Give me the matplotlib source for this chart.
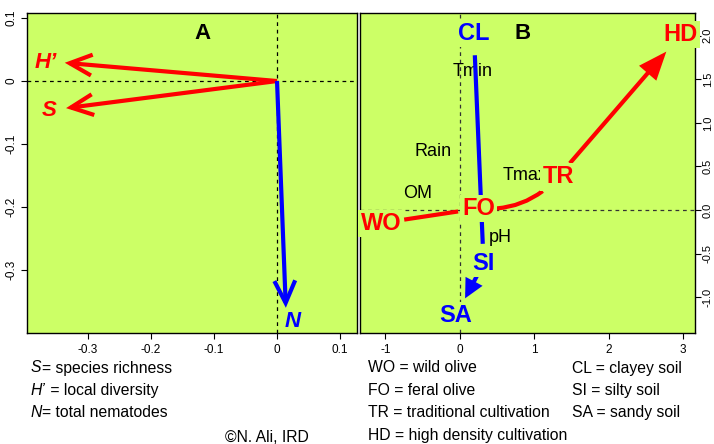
import matplotlib
matplotlib.use("Agg")
import matplotlib.pyplot as plt
from matplotlib.patches import FancyArrowPatch

# Panel A: nematode community vectors
vec_names = ["H’", "S", "N"]
vec_x = [-0.337, -0.335, 0.014]
vec_y = [0.029, -0.043, -0.360]

# Panel B: land-use trajectory, soil gradient and environmental variables
use_names = ["WO", "FO", "TR", "HD"]
use_x = [-1.06, 0.255, 1.32, 2.97]
use_y = [-0.15, 0.02, 0.38, 2.01]

soil_names = ["CL", "SI", "SA"]
soil_x = [0.19, 0.32, -0.05]
soil_y = [2.03, -0.61, -1.21]

env_names = ["Tmin", "Rain", "OM", "Tmax", "pH"]
env_x = [0.17, -0.36, -0.56, 0.88, 0.54]
env_y = [1.59, 0.67, 0.19, 0.40, -0.32]

ticks_a_x = [-0.3, -0.2, -0.1, 0, 0.1]
ticks_a_y = [0.1, 0, -0.1, -0.2, -0.3]
ticks_b_x = [-1, 0, 1, 2, 3]
ticks_b_y = [-1.0, -0.5, 0.0, 0.5, 1.0, 1.5, 2.0]

legend_left = [("S", "= species richness"),
               ("H’", " = local diversity"),
               ("N", "= total nematodes")]
legend_use = ["WO = wild olive", "FO = feral olive",
              "TR = traditional cultivation", "HD = high density cultivation"]
legend_soil = ["CL = clayey soil", "SI = silty soil", "SA = sandy soil"]

GREEN = "#ccff66"
RED = "#ff0000"
BLUE = "#0000ff"

plt.rcParams["font.family"] = "Liberation Sans"

fig = plt.figure(figsize=(7.14, 4.44), dpi=100)
W, H = 714, 444


def px_axes(l, t, r, b):
    return fig.add_axes([l / W, 1 - b / H, (r - l) / W, (b - t) / H])


def arrow(ax, p0, p1, color, style, shrink=(0, 0), rad=0.0, lw=3, z=3):
    ax.add_patch(FancyArrowPatch(p0, p1, arrowstyle=style, color=color, lw=lw,
                                 mutation_scale=10, shrinkA=shrink[0], shrinkB=shrink[1],
                                 connectionstyle=f"arc3,rad={rad}", zorder=z,
                                 joinstyle="miter", capstyle="butt"))


# ---------------- Panel A ----------------
ax = px_axes(27, 13, 357, 333)
ax.set_facecolor(GREEN)
ax.set_xlim(-0.397, 0.127)
ax.set_ylim(-0.40, 0.108)
ax.axhline(0, color="black", lw=0.9, ls=(0, (3, 3)), zorder=1)
ax.axvline(0, color="black", lw=0.9, ls=(0, (3, 3)), zorder=1)

vec_colors = [RED, RED, BLUE]
label_off = [(-14, 0), (-12, -2), (5, -10)]
for name, x, y, c, off in zip(vec_names, vec_x, vec_y, vec_colors, label_off):
    arrow(ax, (0, 0), (x, y), c, "->,head_length=1.6,head_width=0.75")
    ax.annotate(name, (x, y), xytext=off, textcoords="offset points",
                ha="center", va="center", color=c, fontsize=16,
                fontweight="bold", fontstyle="italic", annotation_clip=False)
ax.text(-0.119, 0.076, "A", ha="center", va="center", fontsize=16, fontweight="bold")

ax.set_xticks(ticks_a_x)
ax.set_xticklabels(["-0.3", "-0.2", "-0.1", "0", "0.1"])
ax.set_yticks(ticks_a_y)
ax.set_yticklabels(["0.1", "0", "-0.1", "-0.2", "-0.3"], rotation=90, va="center")

# ---------------- Panel B ----------------
bx = px_axes(360, 13, 695, 333)
bx.set_facecolor(GREEN)
bx.set_xlim(-1.34, 3.16)
bx.set_ylim(-1.41, 2.26)
bx.axhline(0, color="#333333", lw=0.9, ls=(0, (3, 3)), zorder=1)
bx.axvline(0, color="#333333", lw=0.9, ls=(0, (3, 3)), zorder=1)

for name, x, y in zip(env_names, env_x, env_y):
    bx.text(x, y, name, ha="center", va="center", fontsize=13, zorder=2)

# land-use trajectory
use_pts = list(zip(use_x, use_y))
use_shrink = [(17, 15), (13, 15), (13, 16)]
use_rad = [0.0, 0.25, 0.0]
use_style = ["-", "-", "-|>,head_length=1.5,head_width=0.6"]
for i in range(len(use_pts) - 1):
    arrow(bx, use_pts[i], use_pts[i + 1], RED, use_style[i],
          shrink=use_shrink[i], rad=use_rad[i])

# soil gradient
soil_pts = list(zip(soil_x, soil_y))
arrow(bx, soil_pts[0], soil_pts[1], BLUE, "-", shrink=(16, 14))
arrow(bx, soil_pts[1], soil_pts[2], BLUE, "-|>,head_length=0.9,head_width=0.45",
      shrink=(10, 14))

box = dict(facecolor=GREEN, edgecolor="none", pad=1.5)
for name, x, y in zip(use_names, use_x, use_y):
    bx.text(x, y, name, ha="center", va="center", fontsize=17, fontweight="bold",
            color=RED, bbox=box, zorder=5, clip_on=False)
for name, x, y in zip(soil_names, soil_x, soil_y):
    bx.text(x, y, name, ha="center", va="center", fontsize=17, fontweight="bold",
            color=BLUE, bbox=box, zorder=5, clip_on=False)
bx.text(0.85, 2.03, "B", ha="center", va="center", fontsize=16, fontweight="bold")

bx.set_xticks(ticks_b_x)
bx.set_xticklabels([str(v) for v in ticks_b_x])
bx.set_yticks(ticks_b_y)
bx.set_yticklabels([f"{v:.1f}" for v in ticks_b_y], rotation=90, va="center")
bx.yaxis.tick_right()

for a in (ax, bx):
    for s in a.spines.values():
        s.set_linewidth(1.0)
    a.tick_params(length=4, width=0.8, pad=3, labelsize=8.5)
ax.tick_params(axis="x", pad=4)
bx.tick_params(axis="x", pad=4)
bx.tick_params(axis="y", pad=1.5, labelsize=8)

# ---------------- notes under the panels ----------------
fs = 11.3
row_y = [368, 390, 412, 435]
for (sym, rest), y in zip(legend_left, row_y):
    t = fig.text(31 / W, 1 - y / H, sym, fontsize=fs, fontstyle="italic", va="center")
    fig.add_artist(plt.Annotation(rest, xy=(1, 0.5), xycoords=t, va="center",
                                  ha="left", fontsize=fs))
for txt, y in zip(legend_use, row_y):
    fig.text(368 / W, 1 - y / H, txt, fontsize=fs, va="center")
for txt, y in zip(legend_soil, row_y):
    fig.text(572 / W, 1 - y / H, txt, fontsize=fs, va="center")
fig.text(225 / W, 1 - 437 / H, "©N. Ali, IRD", fontsize=fs, va="center")

fig.savefig("out.png", dpi=100)
